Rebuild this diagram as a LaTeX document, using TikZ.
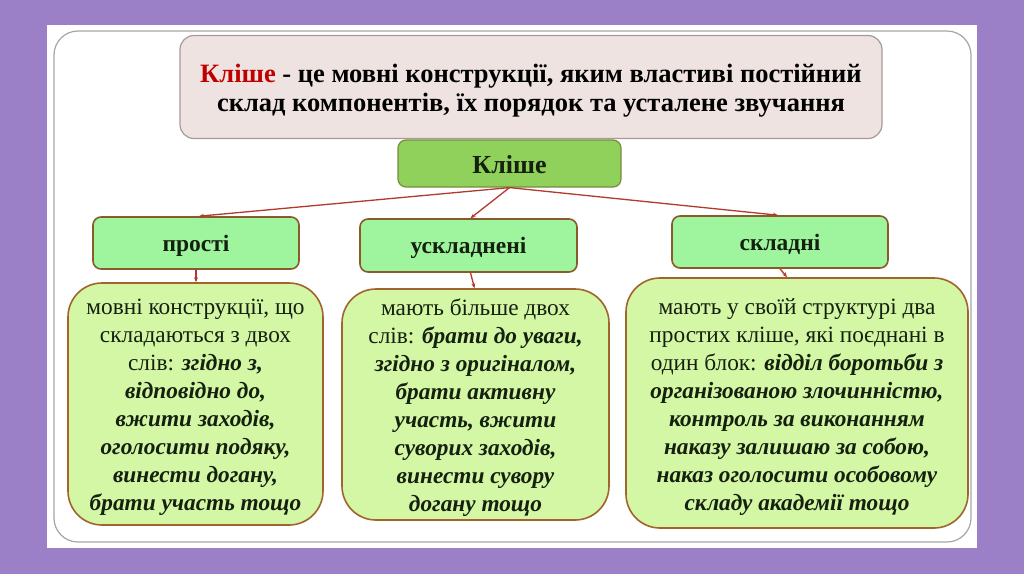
\documentclass[tikz,border=0pt]{standalone}
\usepackage{fontspec}
\setmainfont{Liberation Serif}
\usetikzlibrary{arrows.meta}
\definecolor{bgpurple}{HTML}{9B80C8}
\definecolor{deffill}{HTML}{EEE3E1}
\definecolor{defdraw}{HTML}{A8999A}
\definecolor{topfill}{HTML}{8FD15A}
\definecolor{topdraw}{HTML}{7B8B3E}
\definecolor{midfill}{HTML}{9EF59E}
\definecolor{middraw}{HTML}{8B5A2B}
\definecolor{botfill}{HTML}{D3F7A5}
\definecolor{botdraw}{HTML}{A0642C}
\definecolor{arrowred}{HTML}{B3392C}
\definecolor{klred}{HTML}{C00000}
\definecolor{txt}{HTML}{15200F}
\tikzset{
  defbox/.style={draw=defdraw, line width=1.2pt, fill=deffill, rounded corners=14pt, minimum width=702pt, minimum height=103pt, inner sep=0pt, align=center, font=\fontsize{26.5}{28.5}\selectfont\bfseries},
  topbox/.style={draw=topdraw, line width=1.2pt, fill=topfill, rounded corners=8pt, minimum width=223pt, minimum height=47pt, inner sep=0pt, align=center, font=\fontsize{26}{28}\selectfont\bfseries, text=txt},
  midbox/.style={draw=middraw, line width=1.6pt, fill=midfill, rounded corners=8pt, minimum height=52pt, inner sep=0pt, align=center, font=\fontsize{23.5}{26}\selectfont\bfseries, text=txt},
  botbox/.style={draw=botdraw, line width=1.6pt, fill=botfill, rounded corners=34pt, inner sep=0pt, align=center, font=\fontsize{23.3}{28}\selectfont, text=txt},
  conn/.style={draw=arrowred, line width=1.3pt, -{Stealth[length=5pt,width=4pt]}},
}
\newcommand{\bi}[1]{\textbf{\textit{#1}}}
\newcommand{\up}[1]{\rule{0pt}{#1pt}}
\begin{document}
\begin{tikzpicture}[x=1pt,y=-1pt]
\fill[bgpurple] (0,0) rectangle (1024,574);
\useasboundingbox (0,0) rectangle (1024,574);
\fill[white] (47,25) rectangle (977,548);
\draw[gray!70, line width=1.2pt, rounded corners=24pt] (54,31) rectangle (971,542);

\node[defbox] (def) at (531,87) {\up{26}\textcolor{klred}{Кліше} - це мовні конструкції, яким властиві постійний\\склад компонентів, їх порядок та усталене звучання};

\node[topbox] (kl) at (509.5,163.5) {\up{21}Кліше};

\node[midbox, minimum width=206pt] (pr) at (196,243) {\up{22}прості};
\node[midbox, minimum width=217pt, minimum height=53pt] (us) at (468.5,245.5) {\up{22}ускладнені};
\node[midbox, minimum width=216pt] (sk) at (780,242) {\up{22}складні};

\node[botbox, minimum width=255pt, minimum height=242pt] (b1) at (195.5,404) {\up{23}мовні конструкції, що\\складаються з двох\\слів: \bi{згідно з,}\\\bi{відповідно до,}\\\bi{вжити заходів,}\\\bi{оголосити подяку,}\\\bi{винести догану,}\\\bi{брати участь тощо}};
\node[botbox, minimum width=267pt, minimum height=231pt] (b2) at (475.5,404.5) {\up{24}мають більше двох\\слів: \bi{брати до уваги,}\\\bi{згідно з оригіналом,}\\\bi{брати активну}\\\bi{участь, вжити}\\\bi{суворих заходів,}\\\bi{винести сувору}\\\bi{догану тощо}};
\node[botbox, minimum width=342pt, minimum height=250pt] (b3) at (797,403) {\up{24}мають у своїй структурі два\\простих кліше, які поєднані в\\один блок: \bi{відділ боротьби з}\\\bi{організованою злочинністю,}\\\bi{контроль за виконанням}\\\bi{наказу залишаю за собою,}\\\bi{наказ оголосити особовому}\\\bi{складу академії тощо}};

\draw[conn] (kl.south) -- ([xshift=3pt]pr.north);
\draw[conn] (kl.south) -- ([xshift=2pt]us.north);
\draw[conn] (kl.south) -- ([xshift=-2pt]sk.north);
\draw[conn] (pr.south) -- (pr.south |- b1.north);
\draw[conn] ([xshift=2pt]us.south) -- ([xshift=-1pt]b2.north);
\draw[conn] (sk.south) -- ([xshift=-10pt]b3.north);
\end{tikzpicture}
\end{document}
